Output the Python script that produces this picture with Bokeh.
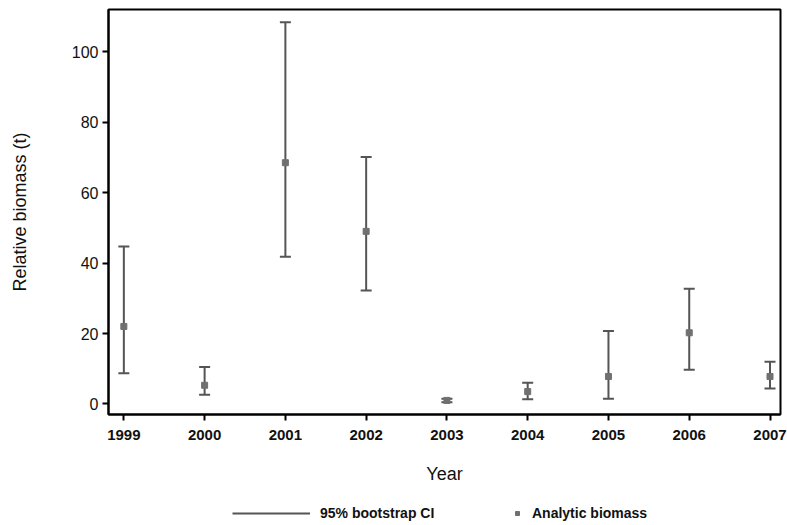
from bokeh.plotting import figure
from bokeh.layouts import column
from bokeh.models import (ColumnDataSource, Range1d, FixedTicker, Whisker, TeeHead,
                          Legend, LegendItem)
from bokeh.embed import file_html
from bokeh.resources import INLINE

# Annual relative biomass estimates with 95% bootstrap confidence intervals
years = [1999, 2000, 2001, 2002, 2003, 2004, 2005, 2006, 2007]
biomass = [22.0, 5.3, 68.5, 49.0, 1.0, 3.5, 7.8, 20.2, 7.8]
ci_lower = [8.7, 2.6, 41.8, 32.2, 0.5, 1.3, 1.5, 9.7, 4.4]
ci_upper = [44.7, 10.5, 108.4, 70.1, 1.5, 6.0, 20.7, 32.7, 12.0]

y_ticks = [0, 20, 40, 60, 80, 100]

src = ColumnDataSource(data=dict(year=years, biomass=biomass,
                                 lower=ci_lower, upper=ci_upper))

FONT = "Liberation Sans"
BAR_COLOR = "#555555"
PT_COLOR = "#707070"

p = figure(width=787, height=500, output_backend="svg", toolbar_location=None,
           x_range=Range1d(1998.81, 2007.13), y_range=Range1d(-3, 112),
           min_border_left=108, min_border_right=7, min_border_top=9,
           min_border_bottom=86, background_fill_color="white",
           border_fill_color="white")

p.outline_line_color = "black"
p.outline_line_width = 2
p.outline_line_alpha = 1
p.xgrid.visible = False
p.ygrid.visible = False

# CI stems and caps
stem_style = dict(line_color=BAR_COLOR, line_width=2)
p.segment(x0="year", y0="lower", x1="year", y1="upper", source=src, **stem_style)
caps = Whisker(source=src, base="year", lower="lower", upper="upper",
               line_alpha=0,
               lower_head=TeeHead(size=11, line_color=BAR_COLOR, line_width=2),
               upper_head=TeeHead(size=11, line_color=BAR_COLOR, line_width=2))
p.add_layout(caps)

pt_style = dict(marker="square", size=6, fill_color=PT_COLOR, line_color=PT_COLOR)
p.scatter(x="year", y="biomass", source=src, **pt_style)

# Axes
p.xaxis.ticker = FixedTicker(ticks=years)
p.yaxis.ticker = FixedTicker(ticks=y_ticks)
for ax in (p.xaxis[0], p.yaxis[0]):
    ax.axis_line_width = 2
    ax.axis_line_color = "black"
    ax.major_tick_line_color = "black"
    ax.major_tick_line_width = 2
    ax.major_tick_in = 0
    ax.major_tick_out = 6
    ax.minor_tick_line_color = None
    ax.major_label_text_font = FONT
    ax.axis_label_text_font = FONT
    ax.axis_label_text_font_style = "normal"
    ax.major_label_text_color = "#111111"
    ax.axis_label_text_color = "#111111"

p.xaxis.axis_label = "Year"
p.xaxis.axis_label_text_font_size = "18px"
p.xaxis.major_label_text_font_size = "15px"
p.xaxis.major_label_text_font_style = "bold"
p.xaxis.major_label_standoff = 9
p.xaxis.axis_label_standoff = 21

p.yaxis.axis_label = "Relative biomass (t)"
p.yaxis.axis_label_text_font_size = "18px"
p.yaxis.major_label_text_font_size = "16px"
p.yaxis.major_label_standoff = 4
p.yaxis.axis_label_standoff = 39

# Legend strip under the chart; its key glyphs reuse the same source,
# which lies outside this strip's ranges, so only the legend keys show.
key = figure(width=787, height=25, output_backend="svg", toolbar_location=None,
             x_range=Range1d(0, 1), y_range=Range1d(0, 1),
             min_border=0, outline_line_color=None,
             background_fill_color="white", border_fill_color="white")
key.axis.visible = False
key.grid.visible = False
key_stem = key.segment(x0="year", y0="lower", x1="year", y1="upper", source=src,
                       **stem_style)
key_pt = key.scatter(x="year", y="biomass", source=src, **pt_style)

common = dict(orientation="horizontal", padding=0, margin=0, spacing=0,
              border_line_alpha=0, background_fill_alpha=0,
              label_text_font=FONT, label_text_font_size="14px",
              label_text_font_style="bold", label_text_color="#111111",
              glyph_height=14, label_height=14)
leg_ci = Legend(items=[LegendItem(label="95% bootstrap CI", renderers=[key_stem])],
                location=(124, 4), glyph_width=78, label_standoff=10, **common)
leg_pt = Legend(items=[LegendItem(label="Analytic biomass", renderers=[key_pt])],
                location=(404, 4), glyph_width=10, label_standoff=10, **common)
key.add_layout(leg_ci)
key.add_layout(leg_pt)

layout = column(p, key, spacing=0)
open("out.html", "w").write(file_html(layout, INLINE))
